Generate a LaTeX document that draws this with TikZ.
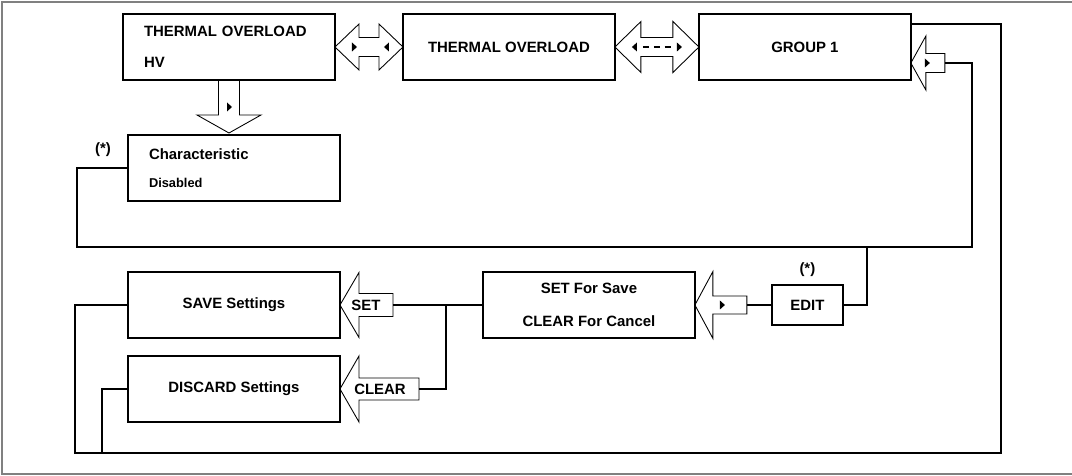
\documentclass[tikz,border=0pt]{standalone}
\usepackage{fontspec}
\setmainfont{Liberation Sans}
\usetikzlibrary{positioning,calc,backgrounds}

\begin{document}
\begin{tikzpicture}[
  x=0.02cm, y=-0.02cm,
  font=\fontsize{8.5}{10}\selectfont\bfseries,
  box/.style={rectangle, draw, line width=1.1pt, outer sep=0pt, minimum width=4.24cm, minimum height=1.32cm, align=center},
  fat/.style={draw, line width=0.5pt, fill=white, line join=miter},
  wire/.style={line width=1.1pt}
]
\useasboundingbox (0,0) rectangle (1072,476);
\node[box, text width=3.4cm, align=left] (toh) at (229,47) {THERMAL OVERLOAD\\[7.5pt]HV};
\node[box, right=1.36cm of toh] (thov) {THERMAL OVERLOAD};
\node[box, right=1.68cm of thov] (grp) {GROUP 1};
\node[box, text width=3.4cm, align=left, below=1.1cm of toh, xshift=0.1cm] (chr) {Characteristic\\[6pt]{\fontsize{7.3}{9}\selectfont Disabled}};
\node (chrnote) at (103,150) {(*)};
\node[box] (save) at (234,305) {SAVE Settings};
\node[box, below=0.36cm of save] (disc) {DISCARD Settings};
\node[box, right=2.86cm of save] (ssave) {SET For Save\\[9pt]CLEAR For Cancel};
\node[box, minimum width=1.42cm, minimum height=0.8cm, right=1.54cm of ssave] (edit) {EDIT};
\node[above=1pt of edit] (editnote) {(*)};

\coordinate (gin) at ($(grp.south east)+(0,-17)$);
\coordinate (gtail) at ($(gin)+(34,0)$);
\coordinate (settail) at ($(save.east)+(53,0)$);
\coordinate (cleartail) at ($(disc.east)+(79,0)$);
\coordinate (edittail) at ($(ssave.east)+(52,0)$);
\coordinate (jn) at ($(ssave.west)+(-37,0)$);
\coordinate (busL) at (77,247);
\coordinate (busR) at (972,247);
\coordinate (editup) at (867,247);
\coordinate (outL) at (75,453);
\coordinate (outR) at (1001,453);
\coordinate (discdown) at (102,453);

\begin{scope}[on background layer]
\draw[gray, line width=0.8pt] (1072,2) -- (2,2) -- (2,474) -- (1072,474);
\draw[fat, shift={(toh.east)}] (0,0) -- (24,-23) -- (24,-9.5) -- (44,-9.5) -- (44,-23) -- (68,0) -- (44,23) -- (44,9.5) -- (24,9.5) -- (24,23) -- cycle;
\fill[shift={(toh.east)}] (17,-4.5) -- (22,0) -- (17,4.5) -- cycle (54,-4.5) -- (49,0) -- (54,4.5) -- cycle;
\draw[fat, shift={(thov.east)}] (0,0) -- (26,-25.5) -- (26,-9.5) -- (58,-9.5) -- (58,-25.5) -- (84,0) -- (58,25.5) -- (58,9.5) -- (26,9.5) -- (26,25.5) -- cycle;
\fill[shift={(thov.east)}] (22,-4.5) -- (17,0) -- (22,4.5) -- cycle (62,-4.5) -- (67,0) -- (62,4.5) -- cycle;
\draw[shift={(thov.east)}, line width=1pt, dash pattern=on 3.4pt off 2.8pt] (28,0) -- (56,0);
\draw[fat, shift={(toh.south)}] (-10.5,0) -- (-10.5,35) -- (-32,35) -- (0,53) -- (32,35) -- (10.5,35) -- (10.5,0);
\fill[shift={(toh.south)}] (-2,22.5) -- (3,27) -- (-2,31.5) -- cycle;
\draw[fat, shift={(gin)}] (0,0) -- (15,-27) -- (15,-9.5) -- (34,-9.5) -- (34,9.5) -- (15,9.5) -- (15,27) -- cycle;
\fill[shift={(gin)}] (14,-4.5) -- (19,0) -- (14,4.5) -- cycle;
\draw[fat, shift={(save.east)}] (0,0) -- (19,-32.5) -- (19,-11.5) -- (53,-11.5) -- (53,11.5) -- (19,11.5) -- (19,32.5) -- cycle;
\draw[fat, shift={(disc.east)}] (0,0) -- (19,-33) -- (19,-11) -- (79,-11) -- (79,11) -- (19,11) -- (19,33) -- cycle;
\draw[fat, shift={(ssave.east)}] (0,0) -- (18,-33.5) -- (18,-9) -- (52,-9) -- (52,9) -- (18,9) -- (18,33.5) -- cycle;
\fill[shift={(ssave.east)}] (25,-4.5) -- (30,0) -- (25,4.5) -- cycle;
\end{scope}
\node (setlbl) at ($(save.east)+(26,0)$) {SET};
\node (clearlbl) at ($(disc.east)+(40,0)$) {CLEAR};

\draw[wire] (settail) -- (ssave.west);
\draw[wire] (cleartail) -| (jn);
\draw[wire] (edittail) -- (edit.west);
\draw[wire] (edit.east) -| (editup);
\draw[wire] (chr.west) -| (busL) -- (busR) |- (gtail);
\draw[wire] (save.west) -| (outL) -- (outR) |- ($(grp.north east)+(0,10)$);
\draw[wire] (disc.west) -| (discdown);
\end{tikzpicture}
\end{document}
